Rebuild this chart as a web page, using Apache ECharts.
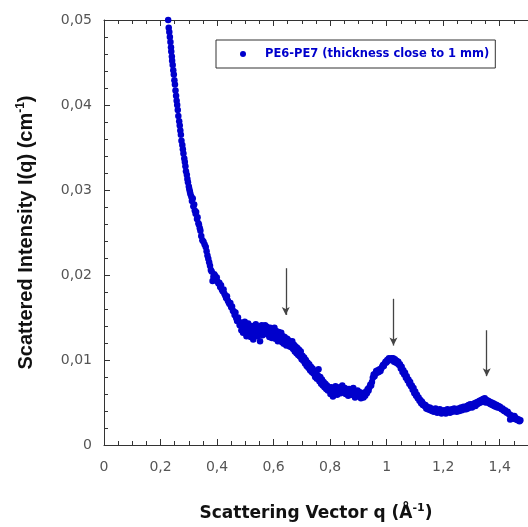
<!DOCTYPE html>
<html>
<head>
<meta charset="utf-8">
<script src="https://cdn.jsdelivr.net/npm/echarts@6/dist/echarts.min.js"></script>
<style>html,body{margin:0;padding:0;background:#fff}#c{width:528px;height:527px}</style>
</head>
<body>
<div id="c"></div>
<script>
// ---- data ----
const qValues = [
0.227,0.229,0.231,0.233,0.235,0.237,0.238,0.240,0.241,0.243,0.245,0.247,0.249,0.251,0.253,0.255,0.257,0.259,0.261,0.263,0.266,0.268,0.270,0.272,0.274,0.277,0.279,0.281,0.284,0.286,0.288,0.290,0.293,0.295,0.297,0.300,0.302,0.304,0.306,
0.309,0.311,0.314,0.316,0.319,0.321,0.324,0.326,0.329,0.331,0.334,0.336,0.339,0.341,0.344,0.348,0.352,0.356,0.360,0.363,0.366,0.369,0.372,0.375,0.378,0.381,0.384,0.387,0.390,0.393,
0.396,0.399,0.402,0.405,0.408,0.411,0.414,0.417,0.420,0.423,0.426,0.429,0.432,0.435,0.438,0.441,0.444,0.447,0.450,0.453,0.456,0.459,0.462,0.465,0.468,0.471,0.474,0.477,0.480,
0.483,0.486,0.489,0.492,0.495,0.498,0.501,0.504,0.507,0.510,0.513,0.516,0.519,0.522,0.525,0.528,0.531,0.534,0.537,0.540,0.543,0.546,0.549,0.552,0.555,0.558,0.561,0.564,0.567,0.570,0.573,0.576,0.579,0.582,0.585,0.588,0.591,0.594,0.597,0.600,0.603,0.606,0.609,0.612,0.615,0.618,0.621,0.624,0.627,0.630,0.633,0.636,0.639,0.642,0.645,0.648,0.651,0.654,0.657,0.660,
0.663,0.666,0.669,0.672,0.675,0.678,0.681,0.684,0.687,0.690,0.693,0.696,0.699,0.702,0.705,0.708,0.711,0.714,0.717,0.720,0.723,0.726,0.729,0.732,0.735,0.738,0.741,0.744,0.747,0.750,0.753,0.756,0.759,0.762,0.765,0.768,0.771,0.774,0.777,0.780,0.783,0.786,0.789,0.792,0.795,0.798,
0.801,0.804,0.807,0.810,0.813,0.816,0.819,0.822,0.825,0.828,0.831,0.834,0.837,0.840,0.843,0.846,0.849,0.852,0.855,0.858,0.861,0.864,0.867,0.870,0.873,0.876,0.879,0.882,0.885,0.888,0.891,0.894,0.897,0.900,0.903,0.906,0.909,0.912,0.915,0.918,0.921,0.924,0.927,0.930,0.933,0.936,
0.939,0.942,0.945,0.948,0.951,0.954,0.957,0.960,0.963,0.966,0.969,0.972,0.975,0.978,0.981,0.984,0.987,0.990,0.993,0.996,0.999,1.002,1.005,1.008,1.011,1.014,1.017,1.020,
1.023,1.026,1.029,1.032,1.035,1.038,1.041,1.044,1.047,1.050,1.053,1.056,1.059,1.062,1.065,1.068,1.071,1.074,1.077,1.080,1.083,1.086,1.089,1.092,1.095,1.098,1.101,1.104,1.107,1.110,1.113,1.116,1.119,1.122,1.125,1.128,1.131,1.134,1.137,1.140,1.143,1.146,1.149,
1.152,1.155,1.158,1.161,1.164,1.167,1.170,1.173,1.176,1.179,1.182,1.185,1.188,1.191,1.194,1.197,1.200,1.203,1.206,1.209,1.212,1.215,1.218,1.221,1.224,1.227,1.230,1.233,1.236,1.239,1.242,1.245,1.248,1.251,1.254,1.257,1.260,1.263,1.266,1.269,1.272,1.275,1.278,
1.281,1.284,1.287,1.290,1.293,1.296,1.299,1.302,1.305,1.308,1.311,1.314,1.317,1.320,1.323,1.326,1.329,1.332,1.335,1.338,1.341,1.344,1.347,1.350,1.353,1.356,1.359,1.362,1.365,1.368,1.371,1.374,1.377,1.380,1.383,1.386,1.389,1.392,1.395,1.398,
1.401,1.404,1.407,1.410,1.413,1.416,1.419,1.422,1.425,1.428,1.431,1.434,1.437,1.440,1.443,1.446,1.449,1.452,1.455,1.458,1.461,1.464,1.467,1.470,1.473,1.476
];
const intensityValues = [
0.0500,0.0491,0.0486,0.0480,0.0474,0.0468,0.0463,0.0457,0.0452,0.0447,0.0441,0.0436,0.0429,0.0424,0.0417,0.0411,0.0405,0.0400,0.0394,0.0387,0.0381,0.0376,0.0370,0.0365,0.0358,0.0353,0.0348,0.0343,0.0337,0.0333,0.0328,0.0322,0.0318,0.0313,0.0309,0.0304,0.0301,0.0298,0.0295,
0.0292,0.0287,0.0290,0.0281,0.0283,0.0276,0.0272,0.0274,0.0266,0.0268,0.0261,0.0259,0.0255,0.0252,0.0246,0.0241,0.0239,0.0236,0.0233,0.0228,0.0223,0.0219,0.0215,0.0211,0.0206,0.0204,0.0193,0.0198,0.0201,
0.0199,0.0194,0.0197,0.0192,0.0190,0.0191,0.0186,0.0188,0.0183,0.0181,0.0183,0.0178,0.0176,0.0173,0.0175,0.0170,0.0168,0.0166,0.0167,0.0162,0.0163,0.0158,0.0157,0.0153,0.0156,0.0149,0.0146,0.0150,0.0145,
0.0141,0.0144,0.0135,0.0142,0.0132,0.0139,0.0145,0.0134,0.0128,0.0138,0.0143,0.0131,0.0137,0.0127,0.0140,0.0134,0.0124,0.0137,0.0130,0.0142,0.0135,0.0128,0.0139,0.0132,0.0122,0.0135,0.0141,0.0129,0.0138,0.0133,0.0141,0.0134,0.0139,0.0130,0.0136,0.0127,0.0138,0.0132,0.0126,0.0135,0.0129,0.0138,0.0125,0.0134,0.0129,0.0122,0.0133,0.0127,0.0124,0.0132,0.0121,0.0128,0.0119,0.0127,0.0122,0.0117,0.0125,0.0119,0.0123,0.0116,
0.0121,0.0115,0.0122,0.0113,0.0118,0.0110,0.0116,0.0108,0.0114,0.0106,0.0112,0.0104,0.0110,0.0101,0.0105,0.0099,0.0103,0.0096,0.0100,0.0093,0.0097,0.0091,0.0095,0.0088,0.0092,0.0086,0.0090,0.0084,0.0087,0.0080,0.0085,0.0078,0.0082,0.0089,0.0075,0.0080,0.0072,0.0077,0.0070,0.0074,0.0068,0.0072,0.0066,0.0070,0.0064,0.0068,
0.0065,0.0060,0.0068,0.0063,0.0057,0.0066,0.0062,0.0069,0.0064,0.0059,0.0067,0.0063,0.0068,0.0061,0.0066,0.0070,0.0064,0.0062,0.0067,0.0060,0.0065,0.0063,0.0058,0.0066,0.0061,0.0064,0.0059,0.0063,0.0067,0.0060,0.0056,0.0062,0.0058,0.0064,0.0060,0.0057,0.0062,0.0055,0.0059,0.0061,0.0056,0.0060,0.0058,0.0063,0.0061,0.0066,
0.0064,0.0068,0.0071,0.0070,0.0074,0.0079,0.0083,0.0081,0.0084,0.0087,0.0085,0.0088,0.0086,0.0089,0.0087,0.0090,0.0092,0.0094,0.0093,0.0096,0.0098,0.0097,0.0100,0.0099,0.0102,0.0100,0.0101,0.0102,
0.0100,0.0102,0.0098,0.0101,0.0097,0.0099,0.0096,0.0098,0.0094,0.0095,0.0090,0.0092,0.0086,0.0088,0.0083,0.0085,0.0079,0.0081,0.0076,0.0077,0.0072,0.0074,0.0069,0.0070,0.0065,0.0067,0.0061,0.0063,0.0058,0.0059,0.0055,0.0056,0.0052,0.0053,0.0049,0.0051,0.0047,0.0048,0.0046,0.0047,0.0043,0.0045,0.0042,
0.0042,0.0044,0.0041,0.0043,0.0040,0.0042,0.0039,0.0041,0.0043,0.0040,0.0038,0.0041,0.0039,0.0042,0.0040,0.0037,0.0040,0.0038,0.0041,0.0039,0.0037,0.0040,0.0042,0.0039,0.0041,0.0038,0.0040,0.0042,0.0039,0.0041,0.0043,0.0040,0.0042,0.0039,0.0041,0.0043,0.0040,0.0042,0.0044,0.0041,0.0043,0.0045,0.0042,
0.0044,0.0042,0.0046,0.0043,0.0047,0.0044,0.0048,0.0045,0.0044,0.0048,0.0047,0.0049,0.0046,0.0050,0.0048,0.0051,0.0049,0.0052,0.0050,0.0053,0.0051,0.0054,0.0052,0.0055,0.0050,0.0053,0.0051,0.0052,0.0049,0.0051,0.0048,0.0050,0.0047,0.0049,0.0046,0.0048,0.0045,0.0047,0.0044,0.0046,
0.0044,0.0045,0.0043,0.0042,0.0043,0.0041,0.0040,0.0041,0.0039,0.0038,0.0039,0.0037,0.0036,0.0030,0.0035,0.0034,0.0033,0.0031,0.0034,0.0032,0.0030,0.0031,0.0029,0.0030,0.0028,0.0029
];
// arrows marking the peaks (q position, top and tip intensity)
const arrowQ = [0.643, 1.024, 1.354];
const arrowTop = [0.0208, 0.0172, 0.0135];
const arrowTip = [0.0153, 0.0117, 0.0081];
const seriesName = 'PE6-PE7 (thickness close to 1 mm)';

const points = qValues.map((q, i) => [q, intensityValues[i]]);
const arrows = arrowQ.map((q, i) => [{ coord: [q, arrowTop[i]] }, { coord: [q, arrowTip[i]] }]);

const fmtX = v => {
  if (Math.abs(v) < 1e-9) return '0';
  if (Math.abs(v - 1) < 1e-9) return '1';
  return v.toFixed(1).replace('.', ',');
};
const fmtY = v => (Math.abs(v) < 1e-12 ? '0' : v.toFixed(2).replace('.', ','));

const axisLineStyle = { color: '#333', width: 1 };
const labelStyle = { color: '#555', fontSize: 14, fontFamily: 'DejaVu Sans' };

const chart = echarts.init(document.getElementById('c'), null, { renderer: 'canvas' });
chart.setOption({
  animation: false,
  backgroundColor: '#fff',
  grid: { left: 104, top: 20, right: -7, bottom: 75, containLabel: false },
  legend: {
    left: 216, top: 40,
    data: [seriesName],
    icon: 'circle',
    itemWidth: 6, itemHeight: 6,
    padding: [8, 6, 8, 24],
    borderColor: '#333', borderWidth: 1,
    backgroundColor: '#fff',
    textStyle: { color: '#0000cc', fontWeight: 'bold', fontSize: 11.5, fontFamily: 'DejaVu Sans', padding: [0, 0, 0, 14] }
  },
  xAxis: [{
    type: 'value', min: 0, max: 1.5, interval: 0.2,
    position: 'bottom',
    axisLine: { show: true, lineStyle: axisLineStyle },
    axisTick: { show: true, inside: true, length: 6, lineStyle: axisLineStyle },
    minorTick: { show: true, splitNumber: 4, length: 4, lineStyle: axisLineStyle },
    axisLabel: Object.assign({ formatter: fmtX, margin: 15, showMaxLabel: false }, labelStyle),
    splitLine: { show: false },
    name: '{t|Scattering Vector q (Å}{s|-1}{t|)}',
    nameLocation: 'middle', nameGap: 58,
    nameTextStyle: {
      rich: {
        t: { fontSize: 17, fontWeight: 'bold', fontFamily: 'DejaVu Sans', color: '#111' },
        s: { fontSize: 11, fontWeight: 'bold', fontFamily: 'DejaVu Sans', color: '#111', verticalAlign: 'bottom', padding: [0, 0, 10, 0] }
      }
    }
  }, {
    type: 'value', min: 0, max: 1.5, interval: 0.2,
    position: 'top',
    axisLine: { show: true, lineStyle: axisLineStyle },
    axisTick: { show: true, inside: true, length: 6, lineStyle: axisLineStyle },
    minorTick: { show: true, splitNumber: 4, length: 4, lineStyle: axisLineStyle },
    axisLabel: { show: false },
    splitLine: { show: false }
  }],
  yAxis: {
    type: 'value', min: 0, max: 0.05, interval: 0.01,
    axisLine: { show: true, lineStyle: axisLineStyle },
    axisTick: { show: true, inside: true, length: 6, lineStyle: axisLineStyle },
    minorTick: { show: true, splitNumber: 5, length: 4, lineStyle: axisLineStyle },
    axisLabel: Object.assign({ formatter: fmtY, margin: 12 }, labelStyle),
    splitLine: { show: false },
    name: '{t|Scattered Intensity I(q) (cm}{s|-1}{t|)}',
    nameLocation: 'middle', nameGap: 66, nameRotate: 90,
    nameTextStyle: {
      rich: {
        t: { fontSize: 20, fontWeight: 'bold', fontFamily: 'Liberation Sans', color: '#111' },
        s: { fontSize: 12, fontWeight: 'bold', fontFamily: 'Liberation Sans', color: '#111', verticalAlign: 'bottom', padding: [0, 0, 11, 0] }
      }
    }
  },
  series: [{
    name: seriesName,
    type: 'scatter',
    xAxisIndex: 0,
    data: points,
    symbol: 'circle',
    symbolSize: 6.5,
    itemStyle: { color: '#0000cc', opacity: 1 },
    markLine: {
      silent: true,
      symbol: ['none', 'arrow'],
      symbolSize: [6, 8],
      label: { show: false },
      lineStyle: { color: '#444', width: 1.3, type: 'solid' },
      data: arrows
    }
  }]
});
</script>
</body>
</html>
